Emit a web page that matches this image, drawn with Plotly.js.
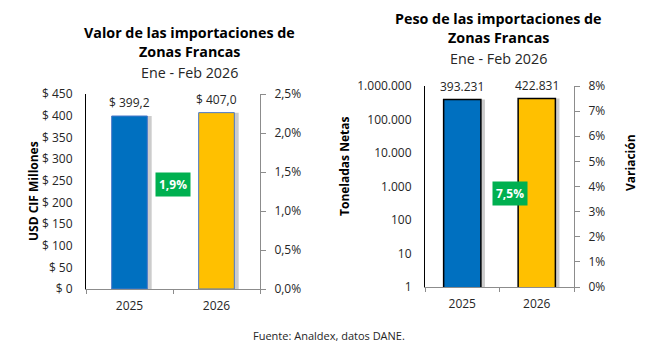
<!DOCTYPE html>
<html>
<head>
<meta charset="utf-8">
<script src="https://cdn.plot.ly/plotly-3.0.1.min.js"></script>
<style>html,body{margin:0;padding:0;background:#fff;}#chart{width:658px;height:352px;}</style>
</head>
<body>
<div id="chart"></div>
<script>
// ---- data ----
const years = ["2025", "2026"];
const valorUSD = [399.2, 407.0];           // USD CIF millones
const pesoTon = [393231, 422831];          // toneladas netas
const variacionLabels = ["1,9%", "7,5%"];  // valor, peso
const valorTicks = [0, 50, 100, 150, 200, 250, 300, 350, 400, 450];
const pesoTicks = [1, 10, 100, 1000, 10000, 100000, 1000000];
const fuente = "Fuente: Analdex, datos DANE.";

// ---- layout helpers ----
const W = 658, H = 352;
const px = x => x / W;
const py = y => 1 - y / H;
const FONT = "Open Sans, Noto Sans, sans-serif";
const TXT = "#262626";
const BLUE = "#0070C0", YELLOW = "#FFC000", GREEN = "#00B050";
const shadow = "rgba(0,0,0,0.2)";
const fmtDots = v => String(Math.round(v)).replace(/\B(?=(\d{3})+(?!\d))/g, ".");

const traces = [
  // chart 1 shadow + bars
  {type: "bar", x: years, y: valorUSD, xaxis: "x", yaxis: "y", width: 0.41, offset: -0.205 + 0.05,
   marker: {color: shadow, line: {width: 0}}, hoverinfo: "skip", showlegend: false},
  {type: "bar", x: years, y: valorUSD, xaxis: "x", yaxis: "y", width: 0.41, offset: -0.205,
   marker: {color: [BLUE, YELLOW], line: {color: "#4A78C8", width: 1}}, showlegend: false},
  {type: "scatter", x: years, y: [0, 0], xaxis: "x", yaxis: "y2", mode: "markers",
   marker: {opacity: 0}, hoverinfo: "skip", showlegend: false},
  // chart 2
  {type: "bar", x: years, y: pesoTon, xaxis: "x2", yaxis: "y3", width: 0.5, offset: -0.25 + 0.055,
   marker: {color: shadow, line: {width: 0}}, hoverinfo: "skip", showlegend: false},
  {type: "bar", x: years, y: pesoTon, xaxis: "x2", yaxis: "y3", width: 0.5, offset: -0.25,
   marker: {color: [BLUE, YELLOW], line: {color: "#000000", width: 1.5}}, showlegend: false},
  {type: "scatter", x: years, y: [0, 0], xaxis: "x2", yaxis: "y4", mode: "markers",
   marker: {opacity: 0}, hoverinfo: "skip", showlegend: false}
];

const tickFont = {family: FONT, size: 12, color: TXT};

const layout = {
  width: W, height: H,
  margin: {l: 0, r: 0, t: 0, b: 0},
  paper_bgcolor: "#fff", plot_bgcolor: "rgba(0,0,0,0)",
  separators: ",.",
  barmode: "overlay",
  showlegend: false,
  font: {family: FONT, color: TXT},
  xaxis: {domain: [px(86), px(260)], anchor: "y", type: "category",
    showline: true, linecolor: "#8c8c8c", linewidth: 1, ticks: "outside", tickson: "boundaries",
    ticklen: 4, tickcolor: "#8c8c8c", tickfont: tickFont, ticklabelstandoff: 6, showgrid: false, zeroline: false,
    range: [-0.5, 1.5]},
  yaxis: {domain: [py(289), py(94)], anchor: "x", range: [0, 450], tickmode: "array", tickvals: valorTicks,
    ticktext: valorTicks.map(v => "$ " + v),
    showline: true, linecolor: "#000", linewidth: 1, ticks: "", tickfont: tickFont, ticklabelstandoff: 10,
    showgrid: false, zeroline: false},
  yaxis2: {overlaying: "y", side: "right", anchor: "x", range: [0, 0.025], dtick: 0.005, tickformat: ".1%",
    showline: true, linecolor: "#8c8c8c", linewidth: 1, ticks: "outside", ticklen: 5, tickcolor: "#8c8c8c",
    tickfont: tickFont, ticklabelstandoff: 6, showgrid: false, zeroline: false},
  xaxis2: {domain: [px(425), px(574)], anchor: "y3", type: "category",
    showline: true, linecolor: "#8c8c8c", linewidth: 1, ticks: "outside", tickson: "boundaries",
    ticklen: 4, tickcolor: "#8c8c8c", tickfont: tickFont, ticklabelstandoff: 6, showgrid: false, zeroline: false,
    range: [-0.5, 1.5]},
  yaxis3: {domain: [py(287), py(86)], anchor: "x2", type: "log", range: [0, 6], tickmode: "array",
    tickvals: pesoTicks, ticktext: pesoTicks.map(fmtDots),
    showline: true, linecolor: "#000", linewidth: 1, ticks: "", tickfont: tickFont,
    ticklabelstandoff: 10, showgrid: false, zeroline: false},
  yaxis4: {overlaying: "y3", side: "right", anchor: "x2", range: [0, 0.08], dtick: 0.01, tickformat: ".0%",
    showline: true, linecolor: "#8c8c8c", linewidth: 1, ticks: "outside", ticklen: 5, tickcolor: "#8c8c8c",
    tickfont: tickFont, ticklabelstandoff: 6, showgrid: false, zeroline: false},
  annotations: []
};

const A = layout.annotations;
function txt(x, y, text, size, bold, extra) {
  A.push(Object.assign({xref: "paper", yref: "paper", x: px(x), y: py(y), xanchor: "center", yanchor: "middle",
    showarrow: false, text: bold ? "<b>" + text + "</b>" : text,
    font: {family: FONT, size: size, color: bold ? "#000" : TXT}}, extra || {}));
}
// titles
txt(189, 32, "Valor de las importaciones de", 14.3, true);
txt(189, 52, "Zonas Francas", 14.3, true);
txt(189, 72, "Ene - Feb 2026", 14.3, false);
txt(498, 18, "Peso de las importaciones de", 14.3, true);
txt(498, 38, "Zonas Francas", 14.3, true);
txt(498, 58, "Ene - Feb 2026", 14.3, false);
// axis titles
txt(33, 191, "USD CIF Millones", 12, true, {textangle: -90});
txt(345, 167, "Toneladas Netas", 12, true, {textangle: -90});
txt(630, 163, "Variación", 12, true, {textangle: -90});
// source
txt(329, 335, fuente, 11, false);

// data labels (category index used for x position)
years.forEach((yr, i) => {
  A.push({xref: "x", yref: "y", x: i, y: valorUSD[i], yanchor: "bottom", yshift: 3, showarrow: false,
    text: "$ " + valorUSD[i].toFixed(1).replace(".", ","), font: {family: FONT, size: 12, color: TXT}});
  A.push({xref: "x2", yref: "y3", x: i, y: Math.log10(pesoTon[i]), yanchor: "bottom", yshift: 3, showarrow: false,
    text: fmtDots(pesoTon[i]), font: {family: FONT, size: 12, color: TXT}});
});
// variation badges
A.push({xref: "x", yref: "paper", x: 0.5, y: py(184), showarrow: false, text: "<b>" + variacionLabels[0] + "</b>",
  bgcolor: GREEN, borderpad: 3, font: {family: FONT, size: 12, color: "#fff"}});
A.push({xref: "x2", yref: "paper", x: 0.64, y: py(193), showarrow: false, text: "<b>" + variacionLabels[1] + "</b>",
  bgcolor: GREEN, borderpad: 3, font: {family: FONT, size: 12, color: "#fff"}});

Plotly.newPlot("chart", traces, layout, {staticPlot: true, displayModeBar: false});
</script>
</body>
</html>
